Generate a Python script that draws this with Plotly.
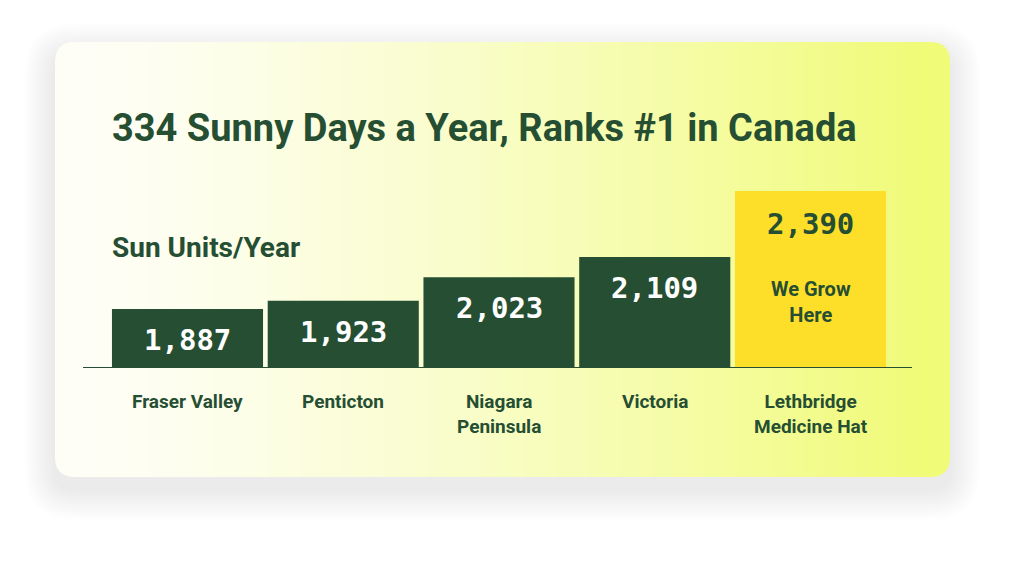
import plotly.graph_objects as go

categories = ["Fraser Valley", "Penticton", "Niagara<br>Peninsula", "Victoria", "Lethbridge<br>Medicine Hat"]
values = [1887, 1923, 2023, 2109, 2390]
value_labels = ["1,887", "1,923", "2,023", "2,109", "2,390"]
bar_colors = ["#254e33", "#254e33", "#254e33", "#254e33", "#fddf2a"]
GREEN = "#254e33"

W, H = 1023, 562
OFF = 8
L, R, T, B = 83 - OFF, 912 - OFF, 180 - OFF, 368 - OFF
def px(x): return (x - OFF - L) / (R - L)
def py(y): return (B - (y - OFF)) / (B - T)

x = list(range(len(categories)))
fig = go.Figure(go.Bar(
    x=x, y=[v - 1636 for v in values], base=1636, width=0.97,
    marker=dict(color=bar_colors, line=dict(width=0)), hoverinfo="skip"))

shapes = []
def rrect(x0, y0, x1, y1, r):
    X0, X1 = px(x0), px(x1); Y0, Y1 = py(y0), py(y1)
    rx = r / (R - L); ry = r / (B - T)
    return (f"M {X0+rx},{Y0} L {X1-rx},{Y0} Q {X1},{Y0} {X1},{Y0-ry} L {X1},{Y1+ry} "
            f"Q {X1},{Y1} {X1-rx},{Y1} L {X0+rx},{Y1} Q {X0},{Y1} {X0},{Y1+ry} "
            f"L {X0},{Y0-ry} Q {X0},{Y0} {X0+rx},{Y0} Z")

# soft shadow
for g in range(30, 0, -3):
    shapes.append(dict(type="path", xref="paper", yref="paper", layer="below",
                       path=rrect(55 - g, 42 - g + 12, 950 + g, 477 + g + 12, 20 + g),
                       fillcolor="rgba(0,0,0,0.008)", line=dict(width=0)))
# card gradient
cx0, cx1, cy0, cy1, rad = 55, 950, 42, 477, 20
shapes.append(dict(type="path", xref="paper", yref="paper", layer="below",
                   path=rrect(cx0, cy0, cx0 + 2 * rad, cy1, rad), fillcolor="#fefef6", line=dict(width=0)))
shapes.append(dict(type="path", xref="paper", yref="paper", layer="below",
                   path=rrect(cx1 - 2 * rad, cy0, cx1, cy1, rad), fillcolor="#f0fb78", line=dict(width=0)))
c0 = (254, 254, 246); c1 = (240, 251, 120)
n = 80
sx0, sx1 = cx0 + rad, cx1 - rad
for i in range(n):
    t = (i / (n - 1)) ** 1.3
    c = tuple(round(c0[k] + (c1[k] - c0[k]) * t) for k in range(3))
    a = sx0 + (sx1 - sx0) * i / n
    b = sx0 + (sx1 - sx0) * (i + 1) / n + 0.6
    shapes.append(dict(type="rect", xref="paper", yref="paper", layer="below",
                       x0=px(a), x1=px(b), y0=py(cy1), y1=py(cy0),
                       fillcolor=f"rgb{c}", line=dict(width=0)))
shapes.append(dict(type="line", xref="paper", yref="y", x0=0, x1=1, y0=1636, y1=1636,
                   line=dict(color=GREEN, width=2), layer="above"))

ann = []
for i, (v, lab) in enumerate(zip(values, value_labels)):
    last = i == len(values) - 1
    ann.append(dict(x=i, y=v, xref="x", yref="y", text=f"<b>{lab}</b>", showarrow=False,
                    yanchor="top", yshift=-12 if not last else -14,
                    font=dict(family="DejaVu Sans Mono", size=29, color=GREEN if last else "white")))
ann.append(dict(x=4, y=2390, xref="x", yref="y", text="<b>We Grow<br>Here</b>", showarrow=False,
                yanchor="top", yshift=-84, font=dict(family="Roboto", size=20, color=GREEN)))
for i, c in enumerate(categories):
    ann.append(dict(x=i, y=0, xref="x", yref="paper", text=f"<b>{c}</b>", showarrow=False, yanchor="top",
                    yshift=-20, font=dict(family="Roboto", size=19, color=GREEN)))
ann.append(dict(x=px(110), y=py(128), xref="paper", yref="paper", xanchor="left", yanchor="middle",
                text="<b>334 Sunny Days a Year, Ranks #1 in Canada</b>", showarrow=False,
                font=dict(family="Roboto", size=38, color=GREEN)))
ann.append(dict(x=px(110), y=py(247), xref="paper", yref="paper", xanchor="left", yanchor="middle",
                text="<b>Sun Units/Year</b>", showarrow=False,
                font=dict(family="Roboto", size=28, color=GREEN)))

fig.update_layout(
    width=W, height=H, margin=dict(l=L, r=W - R, t=T, b=H - B),
    paper_bgcolor="white", plot_bgcolor="rgba(0,0,0,0)", showlegend=False,
    xaxis=dict(range=[-(187.5 - 83) / 155.75, 4 + (912 - 810.5) / 155.75], showticklabels=False,
               showgrid=False, zeroline=False, fixedrange=True),
    yaxis=dict(range=[1636, 2437], visible=False, showgrid=False, fixedrange=True),
    shapes=shapes, annotations=ann)
fig.write_html("out.html")
